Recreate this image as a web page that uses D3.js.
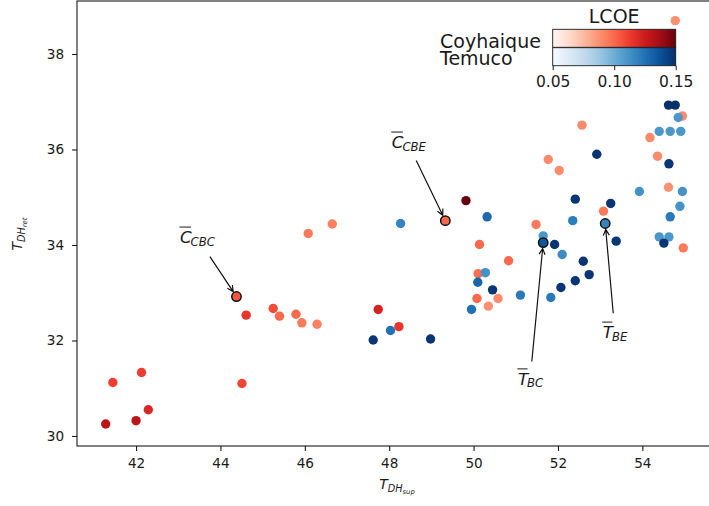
<!DOCTYPE html>
<html>
<head>
<meta charset="utf-8">
<script src="https://cdn.jsdelivr.net/npm/d3@7"></script>
<style>
  body { margin: 0; background: #fff; }
  text { font-family: "DejaVu Sans", sans-serif; fill: #1a1a1a; }
</style>
</head>
<body>
<div id="chart"></div>
<script>
var svgWidth = 709;
var svgHeight = 506;

var margin = { top: 1, right: -1, bottom: 60, left: 77 };

// Coyhaique runs (Reds)
var coyX = [41.28, 42.00, 42.29, 41.45, 42.13, 44.51, 44.61, 45.25, 45.40, 45.79,
  45.93, 46.29, 46.08, 46.65, 47.74, 48.23, 49.82, 50.14, 50.83, 50.11,
  50.08, 50.58, 50.35, 51.48, 51.77, 52.03, 52.57, 53.08, 54.18, 54.36,
  54.62, 54.97, 54.95, 54.78];
var coyY = [30.25, 30.32, 30.55, 31.12, 31.33, 31.10, 32.53, 32.67, 32.51, 32.55,
  32.37, 32.34, 34.24, 34.44, 32.65, 32.29, 34.93, 34.01, 33.67, 33.40,
  32.88, 32.88, 32.72, 34.43, 35.79, 35.56, 36.51, 34.71, 36.25, 35.86,
  35.21, 33.94, 36.70, 38.70];
var coyLcoe = [0.13, 0.13, 0.12, 0.112, 0.112, 0.11, 0.115, 0.108, 0.10, 0.10,
  0.095, 0.093, 0.095, 0.093, 0.122, 0.115, 0.15, 0.10, 0.10, 0.098,
  0.10, 0.09, 0.088, 0.095, 0.09, 0.09, 0.09, 0.095, 0.09, 0.09,
  0.088, 0.095, 0.09, 0.088];

// Temuco runs (Blues)
var temX = [48.27, 48.03, 47.62, 48.98, 50.32, 49.95, 50.10, 50.28, 50.45, 51.11,
  51.65, 51.92, 51.83, 52.10, 52.41, 52.35, 52.60, 52.74, 52.41, 52.07,
  52.92, 53.25, 53.38, 53.93, 54.62, 54.78, 54.85, 54.40, 54.66, 54.91,
  54.63, 54.95, 54.89, 54.66, 54.40, 54.63, 54.51];
var temY = [34.45, 32.21, 32.01, 32.03, 34.59, 32.65, 33.22, 33.42, 33.06, 32.95,
  34.19, 34.01, 32.90, 33.80, 34.96, 34.51, 33.66, 33.38, 33.25, 33.11,
  35.90, 34.87, 34.08, 35.12, 36.93, 36.93, 36.67, 36.38, 36.38, 36.38,
  35.70, 35.12, 34.81, 34.59, 34.17, 34.17, 34.04];
var temLcoe = [0.118, 0.125, 0.148, 0.148, 0.128, 0.125, 0.13, 0.112, 0.148, 0.122,
  0.11, 0.148, 0.122, 0.115, 0.148, 0.12, 0.148, 0.148, 0.148, 0.148,
  0.148, 0.148, 0.148, 0.112, 0.15, 0.15, 0.11, 0.11, 0.11, 0.11,
  0.148, 0.112, 0.112, 0.122, 0.11, 0.11, 0.148];

// highlighted cases
var annMain = ["C", "C", "T", "T"];
var annSub = ["CBC", "CBE", "BC", "BE"];
var annCity = ["coy", "coy", "tem", "tem"];
var annX = [44.38, 49.33, 51.65, 53.12];
var annY = [32.92, 34.51, 34.05, 34.45];
var annLcoe = [0.105, 0.10, 0.135, 0.118];
var annTextX = [43.04, 48.06, 51.05, 53.06];
var annTextY = [34.04, 36.03, 31.07, 32.05];
var annFromX = [43.75, 48.64, 51.38, 53.31];
var annFromY = [33.755, 35.77, 31.56, 32.57];

var xTicks = [42, 44, 46, 48, 50, 52, 54];
var yTicks = [30, 32, 34, 36, 38];
var cbTicks = [0.05, 0.10, 0.15];
var cbNames = ["Coyhaique", "Temuco"];

var chartWidth = svgWidth - margin.left - margin.right;
var chartHeight = svgHeight - margin.top - margin.bottom;

var svg = d3.select("#chart")
  .append("svg")
  .attr("width", svgWidth)
  .attr("height", svgHeight)
  .style("background", "#fff");

var chartGroup = svg.append("g")
  .attr("transform", `translate(${margin.left}, ${margin.top})`);

var xLinearScale = d3.scaleLinear()
  .domain([40.60, 40.60 + chartWidth / 42.19])
  .range([0, chartWidth]);

var yLinearScale = d3.scaleLinear()
  .domain([29.79, 39.11])
  .range([chartHeight, 0]);

var redColor = d3.scaleSequential(d3.interpolateReds).domain([0.05, 0.15]);
var blueColor = d3.scaleSequential(d3.interpolateBlues).domain([0.05, 0.15]);

var bottomAxis = d3.axisBottom(xLinearScale).tickValues(xTicks).tickFormat(d3.format("d"))
  .tickSize(4.9).tickPadding(7);
var leftAxis = d3.axisLeft(yLinearScale).tickValues(yTicks).tickFormat(d3.format("d"))
  .tickSize(4.9).tickPadding(8);

var xAxis = chartGroup.append("g")
  .attr("transform", `translate(0, ${chartHeight})`)
  .call(bottomAxis);
var yAxis = chartGroup.append("g").call(leftAxis);

[xAxis, yAxis].forEach(function(ax) {
  ax.select(".domain").remove();
  ax.selectAll("text").style("font-size", "13.6px").style("font-family", "DejaVu Sans").attr("fill", "#1a1a1a");
  ax.selectAll("line").attr("stroke", "#1a1a1a").attr("stroke-width", 1.1);
});

var r = 4.7;

// Coyhaique first, Temuco drawn over it
chartGroup.append("g").selectAll("circle")
  .data(coyX)
  .enter()
  .append("circle")
  .attr("cx", (d, i) => xLinearScale(coyX[i]))
  .attr("cy", (d, i) => yLinearScale(coyY[i]))
  .attr("r", r)
  .attr("fill", (d, i) => redColor(coyLcoe[i]));

chartGroup.append("g").selectAll("circle")
  .data(temX)
  .enter()
  .append("circle")
  .attr("cx", (d, i) => xLinearScale(temX[i]))
  .attr("cy", (d, i) => yLinearScale(temY[i]))
  .attr("r", r)
  .attr("fill", (d, i) => blueColor(temLcoe[i]));

// highlighted points with black edge
chartGroup.append("g").selectAll("circle")
  .data(annX)
  .enter()
  .append("circle")
  .attr("cx", (d, i) => xLinearScale(annX[i]))
  .attr("cy", (d, i) => yLinearScale(annY[i]))
  .attr("r", r)
  .attr("fill", (d, i) => annCity[i] === "coy" ? redColor(annLcoe[i]) : blueColor(annLcoe[i]))
  .attr("stroke", "#111")
  .attr("stroke-width", 1.5);

// frame
chartGroup.append("rect")
  .attr("x", 0).attr("y", 0)
  .attr("width", chartWidth).attr("height", chartHeight)
  .attr("fill", "none")
  .attr("stroke", "#1a1a1a")
  .attr("stroke-width", 1.1);

// arrows + labels
annX.forEach(function(d, i) {
  var px = xLinearScale(annX[i]), py = yLinearScale(annY[i]);
  var sx = xLinearScale(annFromX[i]), sy = yLinearScale(annFromY[i]);
  var dx = px - sx, dy = py - sy;
  var len = Math.sqrt(dx * dx + dy * dy);
  dx /= len; dy /= len;
  var tx = px - dx * (r + 1.2), ty = py - dy * (r + 1.2);
  var hl = 6, hw = 3;
  var b1x = tx - dx * hl - dy * hw, b1y = ty - dy * hl + dx * hw;
  var b2x = tx - dx * hl + dy * hw, b2y = ty - dy * hl - dx * hw;
  chartGroup.append("path")
    .attr("d", `M${sx},${sy}L${tx},${ty}M${b1x},${b1y}L${tx},${ty}L${b2x},${b2y}`)
    .attr("fill", "none")
    .attr("stroke", "#111")
    .attr("stroke-width", 1.2);

  var lx = xLinearScale(annTextX[i]), ly = yLinearScale(annTextY[i]);
  var mainText = chartGroup.append("text")
    .attr("x", lx).attr("y", ly)
    .style("font-size", "16.7px")
    .style("font-style", "italic")
    .text(annMain[i]);
  var w = mainText.node().getComputedTextLength();
  chartGroup.append("line")
    .attr("x1", lx - 0.5).attr("x2", lx + w - 0.5)
    .attr("y1", ly - 16).attr("y2", ly - 16)
    .attr("stroke", "#1a1a1a").attr("stroke-width", 1);
  chartGroup.append("text")
    .attr("x", lx + w - 1).attr("y", ly + 2.5)
    .style("font-size", "11.7px")
    .style("font-style", "italic")
    .text(annSub[i]);
});

// axis labels (T_{DH_{sup}}, T_{DH_{ret}})
function mathLabel(sel, subs) {
  sel.append("tspan").style("font-size", "13.9px").text("T");
  sel.append("tspan").style("font-size", "9.7px").attr("dy", 3).text(subs[0]);
  sel.append("tspan").style("font-size", "6.8px").attr("dy", 2.4).text(subs[1]);
}

var xLabel = svg.append("text")
  .attr("x", margin.left + 320)
  .attr("y", 489)
  .attr("text-anchor", "middle")
  .style("font-style", "italic");
mathLabel(xLabel, ["DH", "sup"]);

var yLabel = svg.append("text")
  .attr("transform", "translate(22, 234) rotate(-90)")
  .attr("text-anchor", "middle")
  .style("font-style", "italic");
mathLabel(yLabel, ["DH", "ret"]);

// colour bars
var cbLeft = 552.7, cbWidth = 123, cbTop = 29.3, cbH = 18;
var cbScale = d3.scaleLinear().domain([0.05, 0.15]).range([cbLeft, cbLeft + cbWidth]);

var defs = svg.append("defs");
[["gradReds", d3.interpolateReds], ["gradBlues", d3.interpolateBlues]].forEach(function(g) {
  var grad = defs.append("linearGradient").attr("id", g[0])
    .attr("x1", "0%").attr("x2", "100%").attr("y1", "0%").attr("y2", "0%");
  d3.range(0, 1.0001, 0.05).forEach(function(t) {
    grad.append("stop").attr("offset", (t * 100) + "%").attr("stop-color", g[1](t));
  });
});

var cbGroup = svg.append("g");
["gradReds", "gradBlues"].forEach(function(id, i) {
  cbGroup.append("rect")
    .attr("x", cbLeft)
    .attr("y", cbTop + i * (cbH + 0.4))
    .attr("width", cbWidth)
    .attr("height", cbH)
    .attr("fill", `url(#${id})`)
    .attr("stroke", "#1a1a1a")
    .attr("stroke-width", 0.9);
  cbGroup.append("text")
    .attr("x", 440)
    .attr("y", 48 + i * 17)
    .style("font-size", "19px")
    .text(cbNames[i]);
});

var cbBottom = cbTop + 2 * cbH + 0.4;
var cbAxis = d3.axisBottom(cbScale).tickValues(cbTicks).tickFormat(d3.format(".2f"))
  .tickSize(4.5).tickPadding(6);
var cbAxisG = svg.append("g")
  .attr("transform", `translate(0, ${cbBottom})`)
  .call(cbAxis);
cbAxisG.select(".domain").remove();
cbAxisG.selectAll("text").style("font-size", "15.5px").style("font-family", "DejaVu Sans").attr("fill", "#1a1a1a");
cbAxisG.selectAll("line").attr("stroke", "#1a1a1a").attr("stroke-width", 1);

svg.append("text")
  .attr("x", cbLeft + cbWidth / 2)
  .attr("y", 22.5)
  .attr("text-anchor", "middle")
  .style("font-size", "19px")
  .text("LCOE");
</script>
</body>
</html>
